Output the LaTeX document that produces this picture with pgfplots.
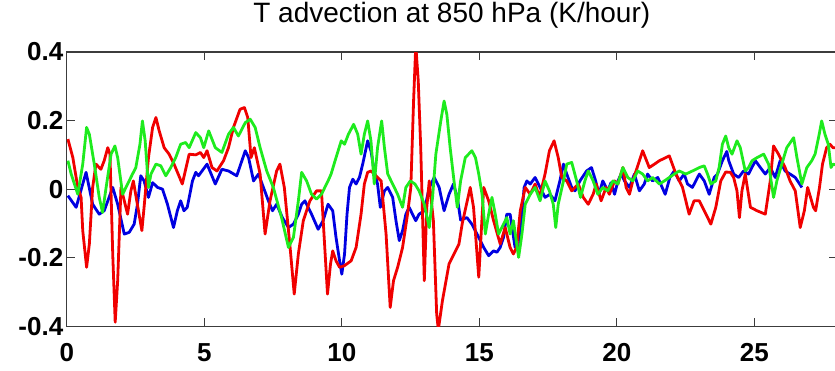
\documentclass[border=0pt]{standalone}
\usepackage{fontspec}
\setmainfont{Liberation Sans}
\usepackage{pgfplots}
\usepackage{pgfplotstable}
\pgfplotsset{compat=1.18}
\definecolor{cblue}{RGB}{0,0,225}
\definecolor{cred}{RGB}{240,0,0}
\definecolor{cgreen}{RGB}{30,235,30}
\definecolor{caxis}{RGB}{60,60,60}

\pgfplotstableread{
x y
0.04 -0.019
0.34 -0.053
0.70 0.049
0.94 -0.044
1.18 -0.073
1.36 -0.063
1.67 0.005
1.85 -0.044
2.09 -0.131
2.27 -0.126
2.45 -0.102
2.57 -0.044
2.69 0.039
2.81 0.024
2.97 -0.024
3.12 0.019
3.30 0.005
3.48 0.000
3.66 -0.044
3.88 -0.112
4.02 -0.063
4.14 -0.034
4.26 -0.063
4.38 -0.053
4.57 0.024
4.69 0.049
4.79 0.039
5.10 0.073
5.40 0.015
5.64 0.058
5.88 0.053
6.18 0.039
6.49 0.112
6.61 0.092
6.79 0.024
6.97 0.044
7.15 0.005
7.33 -0.034
7.48 -0.063
7.63 -0.044
7.84 -0.083
8.06 -0.112
8.24 -0.102
8.42 -0.073
8.54 -0.044
8.66 -0.034
8.90 -0.073
9.14 -0.117
9.32 -0.092
9.50 -0.044
9.67 -0.063
9.79 -0.141
9.92 -0.209
10.00 -0.248
10.10 -0.189
10.19 -0.073
10.28 0.005
10.40 0.029
10.52 0.015
10.64 0.034
10.76 0.073
10.94 0.141
11.06 0.112
11.18 0.053
11.30 0.015
11.40 -0.053
11.55 -0.005
11.67 0.005
11.85 -0.024
11.97 -0.092
12.09 -0.150
12.21 -0.121
12.33 -0.073
12.45 -0.053
12.57 -0.073
12.69 -0.092
12.81 -0.073
13.00 -0.063
13.18 0.005
13.36 0.034
13.54 0.005
13.72 -0.063
13.90 -0.015
14.06 0.015
14.20 -0.024
14.32 -0.090
14.55 -0.083
14.73 -0.102
14.98 -0.141
15.16 -0.170
15.34 -0.194
15.52 -0.180
15.64 -0.184
15.76 -0.170
15.88 -0.141
16.00 -0.073
16.12 -0.073
16.30 -0.170
16.46 -0.170
16.55 -0.073
16.63 0.005
16.73 0.024
16.85 0.015
17.03 0.034
17.21 0.005
17.39 -0.024
17.57 -0.015
17.75 -0.034
17.93 0.024
18.06 0.073
18.18 0.044
18.36 0.005
18.48 -0.005
18.66 0.024
18.90 0.053
19.08 0.063
19.13 0.050
19.23 0.024
19.35 -0.015
19.49 0.024
19.67 -0.005
19.79 0.019
19.92 -0.015
20.04 0.024
20.16 0.044
20.28 0.024
20.46 0.005
20.64 0.044
20.82 -0.005
21.00 0.015
21.12 0.044
21.30 0.024
21.49 0.034
21.76 -0.015
21.93 0.034
22.09 0.053
22.27 0.024
22.45 0.044
22.57 0.015
22.75 0.005
23.00 0.044
23.18 0.024
23.36 -0.015
23.54 0.034
23.66 0.044
23.84 0.083
24.00 0.110
24.07 0.083
24.25 0.044
24.43 0.034
24.61 0.053
24.79 0.044
25.04 0.083
25.22 0.063
25.40 0.044
25.58 0.063
25.76 0.034
25.94 0.083
26.12 0.053
26.30 0.044
26.49 0.034
26.73 0.005
}\blueseries

\pgfplotstableread{
x y
0.04 0.146
0.22 0.092
0.40 0.005
0.52 -0.024
0.58 -0.121
0.72 -0.228
0.82 -0.160
0.94 0.005
1.06 0.073
1.24 0.058
1.36 0.083
1.49 0.121
1.57 0.102
1.67 -0.189
1.76 -0.388
1.85 -0.267
1.97 0.005
2.09 -0.034
2.21 -0.073
2.33 -0.005
2.42 0.024
2.73 -0.121
2.81 -0.053
2.97 0.092
3.12 0.180
3.24 0.209
3.36 0.170
3.54 0.121
3.72 0.102
3.90 0.073
4.20 0.015
4.45 0.102
4.69 0.100
4.86 0.107
4.98 0.092
5.10 0.112
5.28 0.063
5.46 0.053
5.70 0.083
5.88 0.121
6.06 0.180
6.30 0.233
6.46 0.238
6.58 0.209
6.70 0.092
6.82 0.121
7.03 0.044
7.21 -0.131
7.39 -0.034
7.63 0.053
7.75 0.073
7.91 0.005
8.12 -0.170
8.27 -0.306
8.42 -0.189
8.60 -0.092
8.84 -0.034
9.08 -0.005
9.26 -0.005
9.48 -0.306
9.59 -0.218
9.67 -0.180
9.79 -0.209
9.92 -0.228
10.10 -0.223
10.34 -0.209
10.52 -0.170
10.70 -0.073
10.82 0.015
10.94 0.049
11.06 0.053
11.30 0.034
11.43 0.024
11.61 -0.131
11.76 -0.345
11.88 -0.267
12.03 -0.228
12.21 -0.170
12.39 -0.073
12.51 0.005
12.61 0.257
12.69 0.420
12.78 0.316
12.87 0.121
13.00 -0.267
13.09 -0.053
13.18 0.024
13.33 -0.092
13.45 -0.364
13.51 -0.410
13.66 -0.325
13.90 -0.218
14.08 -0.189
14.26 -0.160
14.38 -0.100
14.67 0.005
14.79 -0.053
14.98 -0.257
15.16 0.005
15.34 -0.034
15.52 -0.092
15.76 -0.160
15.94 -0.112
16.12 -0.170
16.24 -0.189
16.36 -0.170
16.49 -0.063
16.67 0.005
16.85 -0.015
17.03 0.015
17.19 -0.024
17.39 0.044
17.55 0.112
17.72 0.141
17.87 0.092
18.00 0.034
18.18 0.024
18.36 -0.005
18.60 0.015
18.78 -0.024
18.96 -0.044
19.14 -0.015
19.25 0.015
19.43 -0.034
19.61 0.005
19.73 -0.015
19.92 0.024
20.04 0.015
20.22 0.063
20.34 0.005
20.46 -0.015
20.58 0.024
20.70 0.053
20.94 0.112
21.18 0.063
21.37 0.073
21.55 0.083
21.91 0.097
22.15 0.044
22.39 0.005
22.63 -0.073
22.81 -0.034
23.00 -0.034
23.42 -0.102
23.60 -0.053
23.78 0.024
23.96 0.050
24.13 0.049
24.25 0.034
24.37 -0.005
24.46 -0.083
24.55 -0.005
24.67 0.044
24.86 -0.053
25.10 -0.063
25.40 -0.073
25.58 0.024
25.70 0.126
25.88 0.102
26.12 0.063
26.30 0.024
26.49 -0.005
26.67 -0.112
26.82 -0.063
26.94 0.005
27.15 -0.053
27.23 -0.063
27.37 0.005
27.48 0.073
27.63 0.121
27.75 0.131
27.86 0.121
28.00 0.120
}\redseries

\pgfplotstableread{
x y
0.04 0.083
0.16 0.044
0.40 -0.015
0.58 0.073
0.72 0.180
0.82 0.160
1.00 0.073
1.18 -0.024
1.30 -0.068
1.43 0.005
1.61 0.102
1.75 0.126
1.85 0.092
2.03 -0.015
2.21 0.015
2.39 0.044
2.51 0.063
2.66 0.131
2.75 0.199
2.85 0.141
2.97 0.005
3.06 0.044
3.24 0.073
3.42 0.068
3.60 0.039
3.78 0.063
3.96 0.092
4.14 0.131
4.32 0.136
4.45 0.121
4.69 0.165
4.86 0.150
4.98 0.121
5.16 0.170
5.40 0.121
5.64 0.107
5.88 0.160
6.06 0.180
6.24 0.155
6.49 0.194
6.67 0.204
6.85 0.180
7.03 0.121
7.27 0.053
7.51 0.005
7.81 -0.083
8.06 -0.170
8.24 -0.141
8.42 -0.034
8.54 0.049
8.72 0.024
8.90 -0.015
9.08 -0.029
9.26 -0.015
9.50 0.024
9.61 0.044
9.79 0.092
9.98 0.141
10.10 0.131
10.24 0.160
10.43 0.189
10.58 0.160
10.70 0.102
10.82 0.160
10.94 0.199
11.06 0.141
11.18 0.015
11.30 0.121
11.45 0.199
11.55 0.121
11.67 0.044
11.85 0.015
12.03 -0.015
12.21 -0.053
12.33 0.005
12.49 0.024
12.66 0.015
12.81 -0.005
13.00 -0.044
13.18 -0.112
13.30 -0.024
13.42 0.102
13.60 0.199
13.72 0.257
13.82 0.218
13.94 0.121
14.08 0.024
14.20 -0.053
14.32 0.024
14.49 0.092
14.73 0.112
14.86 0.092
14.98 0.044
15.10 -0.015
15.22 -0.131
15.34 -0.073
15.46 -0.024
15.58 -0.073
15.70 -0.131
15.82 -0.112
16.00 -0.083
16.12 -0.131
16.24 -0.092
16.43 -0.199
16.55 -0.131
16.67 -0.044
16.85 -0.015
17.03 0.005
17.21 -0.034
17.39 0.024
17.55 -0.005
17.69 -0.044
17.78 -0.112
17.87 -0.044
18.06 0.024
18.18 0.073
18.36 0.078
18.54 0.024
18.68 -0.024
18.84 0.024
18.96 0.053
19.14 0.024
19.31 -0.015
19.49 0.005
19.67 -0.005
19.86 0.024
20.04 0.015
20.22 0.063
20.40 0.034
20.58 0.024
20.76 0.053
20.94 0.044
21.12 0.024
21.30 0.034
21.55 0.015
21.73 0.024
21.91 0.034
22.09 0.044
22.27 0.053
22.51 0.044
22.75 0.053
23.00 0.063
23.18 0.068
23.30 0.044
23.42 0.015
23.60 0.024
23.72 0.063
23.84 0.131
23.96 0.155
24.07 0.121
24.19 0.102
24.37 0.141
24.49 0.121
24.67 0.053
24.79 0.063
24.92 0.083
25.10 0.092
25.34 0.102
25.52 0.073
25.70 -0.024
25.82 0.024
26.00 0.073
26.18 0.121
26.43 0.150
26.55 0.092
26.73 0.015
26.91 0.063
27.09 0.083
27.21 0.102
27.36 0.160
27.45 0.199
27.57 0.160
27.69 0.131
27.79 0.063
27.86 0.073
28.00 0.070
}\greenseries

\begin{document}
\begin{tikzpicture}
\begin{axis}[
  scale only axis,
  width=770pt, height=274.3pt,
  xmin=0, xmax=28, ymin=-0.4, ymax=0.4,
  xtick={0,5,10,15,20,25},
  xticklabels={0,5,10,15,20,25},
  ytick={-0.4,-0.2,0,0.2,0.4},
  yticklabels={-0.4,-0.2,0,0.2,0.4},
  tick align=inside,
  major tick length=8pt,
  tick style={line width=1.2pt, color=caxis},
  axis line style={line width=1.3pt, color=caxis},
  ticklabel style={font=\bfseries\fontsize{26}{26}\selectfont},
  xticklabel style={yshift=-14pt},
  title={T advection at 850 hPa (K/hour)},
  title style={font=\fontsize{28}{28}\selectfont, at={(0.5,1)}, anchor=base, yshift=24pt},
  every axis plot/.append style={line width=2.8pt, line join=round},
]
\addplot[cblue, no markers] table[x=x, y=y] {\blueseries};
\addplot[cred, no markers] table[x=x, y=y] {\redseries};
\addplot[cgreen, no markers] table[x=x, y=y] {\greenseries};
\end{axis}
\pgfresetboundingbox
\path[use as bounding box] (-66.8pt,-44.7pt) rectangle (768.2pt,326.3pt);
\end{tikzpicture}
\end{document}
